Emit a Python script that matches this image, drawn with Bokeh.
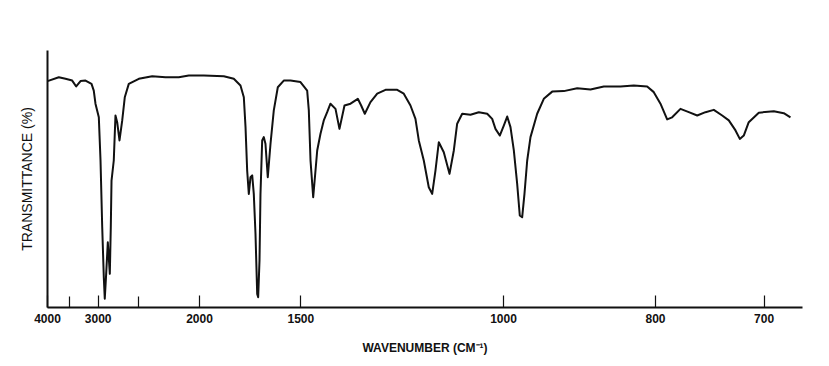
from bokeh.plotting import figure
from bokeh.models import FixedTicker, CustomJSTickFormatter, Range1d
from bokeh.embed import file_html
from bokeh.resources import INLINE

# Spectrum (x axis is linear in wavelength, µm)
wavelength_um = [
    2.500, 2.686, 2.796, 2.906, 2.972, 3.043, 3.125, 3.224, 3.261, 3.289,
    3.344, 3.372, 3.400, 3.426, 3.442, 3.465, 3.492, 3.525, 3.541, 3.553,
    3.590, 3.618, 3.646, 3.684, 3.729, 3.771, 3.837, 4.002, 4.222, 4.441,
    4.659, 4.824, 5.071, 5.400, 5.564, 5.674, 5.729, 5.757, 5.784, 5.811,
    5.839, 5.867, 5.893, 5.921, 5.949, 5.965, 5.987, 6.003, 6.031, 6.057,
    6.085, 6.123, 6.168, 6.222, 6.288, 6.386, 6.497, 6.661, 6.771, 6.798,
    6.826, 6.870, 6.908, 6.936, 6.990, 7.044, 7.100, 7.154, 7.237, 7.302,
    7.385, 7.484, 7.604, 7.659, 7.719, 7.812, 7.923, 8.059, 8.252, 8.360,
    8.470, 8.552, 8.607, 8.689, 8.771, 8.827, 8.881, 8.936, 9.018, 9.112,
    9.183, 9.238, 9.321, 9.457, 9.594, 9.732, 9.814, 9.868, 9.939, 10.005,
    10.061, 10.115, 10.170, 10.225, 10.268, 10.307, 10.345, 10.390, 10.444, 10.554,
    10.663, 10.801, 10.992, 11.212, 11.431, 11.650, 11.924, 12.143, 12.363, 12.472,
    12.582, 12.692, 12.774, 12.911, 13.048, 13.186, 13.322, 13.459, 13.597, 13.706,
    13.816, 13.887, 13.952, 14.034, 14.199, 14.446, 14.610, 14.720,
]
transmittance = [
    88.1, 89.6, 89.0, 88.3, 86.0, 88.1, 88.3, 87.0, 84.4, 79.3,
    74.0, 57.2, 31.2, 11.8, 3.4, 13.1, 25.4, 13.1, 31.2, 49.4,
    57.2, 74.7, 72.1, 65.0, 72.8, 81.8, 87.0, 89.0, 90.0, 89.6,
    89.6, 90.3, 90.3, 90.0, 89.0, 86.4, 81.8, 70.2, 53.3, 44.2,
    50.7, 51.4, 44.2, 28.7, 5.3, 4.0, 18.3, 44.2, 65.0, 66.3,
    63.7, 50.7, 63.7, 76.7, 85.7, 88.3, 88.3, 87.7, 84.4, 76.7,
    57.2, 42.9, 53.3, 61.1, 67.6, 72.8, 76.0, 79.3, 77.3, 69.5,
    78.6, 79.3, 81.2, 78.6, 75.4, 79.9, 83.2, 84.7, 84.7, 83.2,
    78.6, 73.4, 65.0, 57.2, 46.8, 44.2, 53.3, 64.3, 60.4, 52.0,
    61.1, 71.5, 75.4, 75.0, 76.0, 75.4, 73.4, 69.5, 66.9, 70.8,
    74.3, 70.2, 61.1, 48.1, 35.8, 35.1, 44.2, 57.2, 66.3, 75.4,
    81.2, 84.0, 84.2, 85.3, 84.8, 86.0, 86.0, 86.4, 86.0, 83.8,
    79.3, 73.2, 74.0, 77.3, 76.0, 74.7, 76.0, 76.9, 74.7, 72.8,
    68.9, 65.6, 66.9, 72.1, 75.8, 76.4, 75.6, 74.0,
]

# Axis ticks (wavenumber, cm-1)
labeled_wavenumbers = [4000, 3000, 2000, 1500, 1000, 800, 700]
unlabeled_wavenumbers = [3500, 2500]

major_ticks = [10000.0 / w for w in labeled_wavenumbers]
minor_ticks = [10000.0 / w for w in unlabeled_wavenumbers]

FONT = "Liberation Sans"

p = figure(
    frame_width=755, frame_height=257,
    min_border_left=47, min_border_right=11,
    min_border_top=50, min_border_bottom=51,
    x_range=Range1d(2.5, 14.918), y_range=Range1d(0, 100),
    output_backend="svg", toolbar_location=None,
    x_axis_location="below", y_axis_location="left",
)
p.outline_line_color = None
p.xgrid.visible = False
p.ygrid.visible = False
p.background_fill_color = "white"
p.border_fill_color = "white"

p.line(wavelength_um, transmittance, line_color="#111111", line_width=2.0,
       line_join="round")

xa = p.xaxis[0]
xa.ticker = FixedTicker(ticks=major_ticks, minor_ticks=minor_ticks)
xa.formatter = CustomJSTickFormatter(
    code="return (Math.round(10000 / tick / 100) * 100).toString();")
xa.axis_line_color = "#111111"
xa.axis_line_width = 2
xa.major_tick_in = 12
xa.major_tick_out = 0
xa.minor_tick_in = 11
xa.minor_tick_out = 0
xa.major_tick_line_color = "#111111"
xa.minor_tick_line_color = "#111111"
xa.major_tick_line_width = 1.2
xa.minor_tick_line_width = 1.2
xa.major_label_standoff = 6
xa.major_label_text_font = FONT
xa.major_label_text_font_size = "12px"
xa.major_label_text_font_style = "bold"
xa.major_label_text_color = "#111111"
xa.axis_label = "WAVENUMBER (CM\u207b\u00b9)"
xa.axis_label_text_font = FONT
xa.axis_label_text_font_size = "12px"
xa.axis_label_text_font_style = "bold"
xa.axis_label_text_color = "#111111"
xa.axis_label_standoff = 15

ya = p.yaxis[0]
ya.ticker = FixedTicker(ticks=[])
ya.axis_line_color = "#111111"
ya.axis_line_width = 2
ya.major_tick_line_color = None
ya.minor_tick_line_color = None
ya.major_label_text_font_size = "0px"
ya.axis_label = "TRANSMITTANCE (%)"
ya.axis_label_text_font = FONT
ya.axis_label_text_font_size = "14px"
ya.axis_label_text_font_style = "normal"
ya.axis_label_text_color = "#111111"
ya.axis_label_standoff = 13

open("out.html", "w").write(file_html(p, INLINE))
